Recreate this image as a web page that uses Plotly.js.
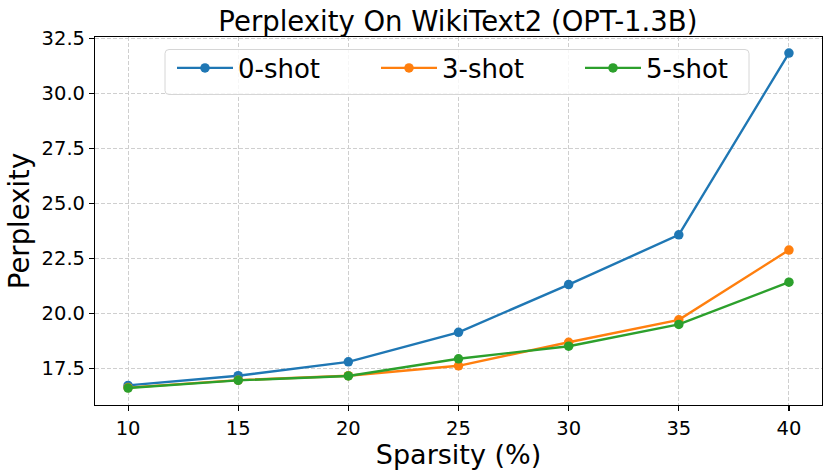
<!DOCTYPE html>
<html>
<head>
<meta charset="utf-8">
<script src="https://cdn.plot.ly/plotly-3.0.1.min.js"></script>
<style>
  html, body { margin: 0; padding: 0; background: #fff; }
  #plot { width: 831px; height: 474px; }
</style>
</head>
<body>
<div id="plot"></div>
<script>
// sparsity levels (%)
const sparsity = [10, 15, 20, 25, 30, 35, 40];

// perplexity per prompting setting
const zeroShot = [16.73, 17.17, 17.80, 19.14, 21.31, 23.57, 31.83];
const threeShot = [16.63, 16.97, 17.17, 17.62, 18.69, 19.71, 22.88];
const fiveShot = [16.61, 16.96, 17.16, 17.94, 18.51, 19.50, 21.42];

const seriesNames = ['0-shot', '3-shot', '5-shot'];
const seriesColors = ['#1f77b4', '#ff7f0e', '#2ca02c'];
const yTicks = [17.5, 20.0, 22.5, 25.0, 27.5, 30.0, 32.5];

function makeTrace(y, i) {
    return {
        x: sparsity,
        y: y,
        name: seriesNames[i],
        mode: 'lines+markers',
        type: 'scatter',
        line: { color: seriesColors[i], width: 2.4 },
        marker: { color: seriesColors[i], size: 9.5 }
    };
}

const data = [zeroShot, threeShot, fiveShot].map(makeTrace);

const font = 'DejaVu Sans, sans-serif';

// plot area in px, used to place the legend frame
const W = 831, H = 474;
const M = { l: 95, r: 9, t: 37, b: 69 };
const pw = W - M.l - M.r, ph = H - M.t - M.b;
const px = v => (v - M.l) / pw;
const py = v => (H - M.b - v) / ph;

// rounded legend frame (matplotlib style)
function roundRect(x0, y0, x1, y1, r) {
    const p = (x, y) => px(x) + ',' + py(y);
    return 'M' + p(x0 + r, y0) + ' L' + p(x1 - r, y0) + ' Q' + p(x1, y0) + ' ' + p(x1, y0 + r) +
        ' L' + p(x1, y1 - r) + ' Q' + p(x1, y1) + ' ' + p(x1 - r, y1) +
        ' L' + p(x0 + r, y1) + ' Q' + p(x0, y1) + ' ' + p(x0, y1 - r) +
        ' L' + p(x0, y0 + r) + ' Q' + p(x0, y0) + ' ' + p(x0 + r, y0) + ' Z';
}

const axisBase = {
    showline: true,
    mirror: true,
    linecolor: '#000',
    linewidth: 1.1,
    ticks: 'outside',
    ticklen: 5,
    tickwidth: 1.1,
    tickcolor: '#000',
    showgrid: true,
    gridcolor: '#cfcfcf',
    griddash: '4px,2px',
    gridwidth: 1,
    zeroline: false,
    tickfont: { family: font, size: 19.5, color: '#000' }
};

const layout = {
    width: W,
    height: H,
    margin: M,
    paper_bgcolor: '#fff',
    plot_bgcolor: '#fff',
    font: { family: font, color: '#000' },
    title: {
        text: 'Perplexity On WikiText2 (OPT-1.3B)',
        font: { family: font, size: 27.5, color: '#000' },
        x: 0.551,
        xanchor: 'center',
        yref: 'container',
        y: 0.935,
        yanchor: 'bottom'
    },
    xaxis: Object.assign({}, axisBase, {
        range: [8.5, 41.5],
        tickvals: sparsity,
        ticktext: sparsity.map(String),
        title: { text: 'Sparsity (%)', font: { family: font, size: 27, color: '#000' }, standoff: 4 }
    }),
    yaxis: Object.assign({}, axisBase, {
        range: [15.84, 32.56],
        tickvals: yTicks,
        ticktext: yTicks.map(v => v.toFixed(1)),
        title: { text: 'Perplexity', font: { family: font, size: 27.5, color: '#000' }, standoff: 4 }
    }),
    shapes: [{
        type: 'path',
        xref: 'paper',
        yref: 'paper',
        path: roundRect(165, 49.5, 749, 94.5, 4),
        fillcolor: 'rgba(255,255,255,0.8)',
        line: { color: '#d6d6d6', width: 1 },
        layer: 'above'
    }],
    showlegend: true,
    legend: {
        orientation: 'h',
        x: px(172),
        xanchor: 'left',
        y: py(44.5),
        yanchor: 'top',
        bgcolor: 'rgba(0,0,0,0)',
        borderwidth: 0,
        font: { family: font, size: 26, color: '#000' },
        itemwidth: 56,
        entrywidth: 133,
        tracegroupgap: 0
    }
};

Plotly.newPlot('plot', data, layout, { displayModeBar: false, staticPlot: true });
</script>
</body>
</html>
